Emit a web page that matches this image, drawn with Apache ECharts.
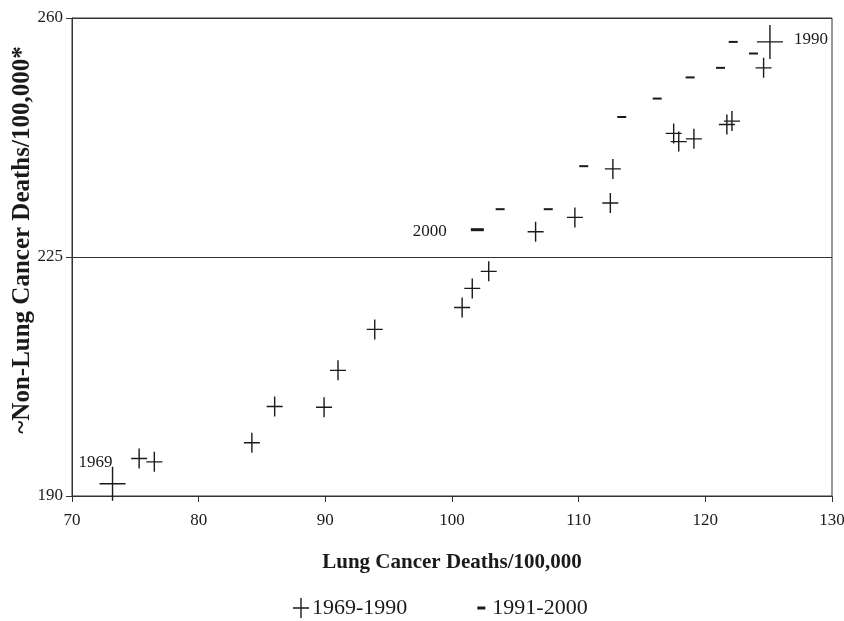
<!DOCTYPE html>
<html lang="en">
<head>
    <meta charset="UTF-8">
    <title>Lung vs non-lung cancer deaths</title>
    <script type="text/javascript" src="https://cdn.jsdelivr.net/npm/echarts@6/dist/echarts.min.js"></script>
    <style>
        html, body { margin: 0; padding: 0; background: #fff; }
    </style>
</head>
<body>
<div id="main" style="width: 844px;height:621px"></div>

<script type="text/javascript">
    // 1969-1990
    var earlyYears = [1969, 1970, 1971, 1972, 1973, 1974, 1975, 1976, 1977, 1978, 1979,
                      1980, 1981, 1982, 1983, 1984, 1985, 1986, 1987, 1988, 1989, 1990];
    var earlyLung = [73.2, 75.3, 76.5, 84.2, 86.0, 89.9, 91.0, 93.9, 100.8, 101.6, 102.9,
                     106.6, 109.7, 112.5, 112.7, 117.5, 117.9, 119.1, 121.7, 122.1, 124.6, 125.1];
    var earlyOther = [191.8, 195.5, 195.0, 197.8, 203.1, 203.0, 208.4, 214.4, 217.6, 220.4, 222.9,
                      228.7, 230.8, 232.9, 237.9, 243.1, 241.9, 242.3, 244.4, 244.9, 252.7, 256.5];

    // 1991-2000
    var lateYears = [1991, 1992, 1993, 1994, 1995, 1996, 1997, 1998, 1999, 2000];
    var lateLung = [123.8, 122.2, 121.2, 118.8, 116.2, 113.4, 110.4, 107.6, 103.8, 102.0];
    var lateOther = [254.8, 256.5, 252.7, 251.3, 248.2, 245.5, 238.3, 232.0, 232.0, 229.0];

    var labelledYears = [1969, 1990, 2000];

    var FONT = 'Liberation Serif';
    var INK = '#1a1a1a';

    var crossPath = 'path://M0,9.3H16V10.7H0Z M7.3,0H8.7V20H7.3Z';
    var bigCrossPath = 'path://M0,16.3H26V17.7H0Z M12.3,0H13.7V34H12.3Z';
    var dashPath = 'path://M0,0H9V2H0Z';
    var legendDash = 'path://M0,0M16,20M4,8.5H12V11.5H4Z';

    var labelFor = {
        1969: {show: true, formatter: '1969', position: [13, -4], align: 'right', verticalAlign: 'middle'},
        1990: {show: true, formatter: '1990', position: 'right', distance: 11, offset: [0, -2]},
        2000: {show: true, formatter: '2000', position: 'left', distance: 24, offset: [0, 2]}
    };

    function buildData(years, xs, ys, big, bigSize) {
        var out = [];
        for (var i = 0; i < years.length; i++) {
            var item = {name: String(years[i]), value: [xs[i], ys[i]]};
            if (labelledYears.indexOf(years[i]) >= 0) {
                item.symbol = big;
                item.symbolSize = bigSize;
                item.label = labelFor[years[i]];
            }
            out.push(item);
        }
        return out;
    }

    var chartDom = document.getElementById('main');
    var myChart = echarts.init(chartDom);
    var option;

    option = {
        backgroundColor: '#fff',
        animation: false,
        textStyle: {fontFamily: FONT, color: INK},
        grid: {
            left: 72, right: 12, top: 18, bottom: 125,
            outerBoundsMode: 'none',
            containLabel: false,
            show: true, borderColor: '#333', borderWidth: 1
        },
        legend: {
            top: 592,
            left: 288,
            itemGap: 66,
            itemWidth: 16,
            itemHeight: 20,
            itemStyle: {color: INK},
            textStyle: {fontFamily: FONT, fontSize: 22, color: INK, padding: [0, 0, 0, -2]},
            data: [
                {name: '1969-1990', icon: crossPath},
                {name: '1991-2000', icon: legendDash}
            ]
        },
        xAxis: {
            type: 'value',
            min: 70, max: 130, interval: 10,
            name: 'Lung Cancer Deaths/100,000',
            nameLocation: 'middle',
            nameGap: 56,
            nameMoveOverlap: false,
            nameTextStyle: {fontFamily: FONT, fontSize: 21, fontWeight: 'bold', color: INK},
            axisLine: {lineStyle: {color: '#333', width: 1}},
            axisTick: {show: true, inside: false, length: 6, lineStyle: {color: '#333'}},
            axisLabel: {margin: 16, fontSize: 17, fontFamily: FONT, color: INK},
            splitLine: {show: false}
        },
        yAxis: {
            type: 'value',
            min: 190, max: 260, interval: 35,
            name: '~Non-Lung Cancer Deaths/100,000*',
            nameLocation: 'middle',
            nameGap: 37,
            nameMoveOverlap: false,
            nameTextStyle: {fontFamily: FONT, fontSize: 25, fontWeight: 'bold', color: INK,
                            padding: [0, 0, 0, 34]},
            axisLine: {show: true, lineStyle: {color: '#333', width: 1}},
            axisTick: {show: true, inside: false, length: 6, lineStyle: {color: '#333'}},
            axisLabel: {margin: 9, fontSize: 17, fontFamily: FONT, color: INK},
            splitLine: {show: true, lineStyle: {color: '#333', width: 1}}
        },
        series: [
            {
                name: '1969-1990',
                type: 'scatter',
                symbol: crossPath,
                symbolSize: [16, 20],
                itemStyle: {color: INK, opacity: 1},
                label: {fontFamily: FONT, fontSize: 17, color: INK},
                data: buildData(earlyYears, earlyLung, earlyOther, bigCrossPath, [26, 34])
            },
            {
                name: '1991-2000',
                type: 'scatter',
                symbol: dashPath,
                symbolSize: [9, 2],
                itemStyle: {color: INK, opacity: 1},
                label: {fontFamily: FONT, fontSize: 17, color: INK},
                data: buildData(lateYears, lateLung, lateOther, 'path://M0,0H13V3H0Z', [13, 3])
            }
        ]
    };

    option && myChart.setOption(option);
</script>
</body>
</html>
